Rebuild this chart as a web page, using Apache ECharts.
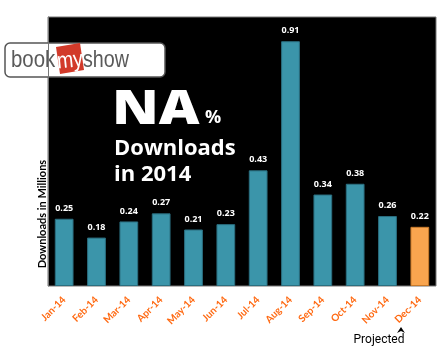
<!DOCTYPE html>
<html><head><meta charset="utf-8">
<script src="https://cdn.jsdelivr.net/npm/echarts@6/dist/echarts.min.js"></script>
<style>html,body{margin:0;padding:0;background:#fff}#c{width:448px;height:364px}</style>
</head><body><div id="c"></div>
<script>
const categories = ['Jan-14','Feb-14','Mar-14','Apr-14','May-14','Jun-14','Jul-14','Aug-14','Sep-14','Oct-14','Nov-14','Dec-14'];
const downloads = [0.25,0.18,0.24,0.27,0.21,0.23,0.43,0.91,0.34,0.38,0.26,0.22];
const projectedIndex = 11;

const chart = echarts.init(document.getElementById('c'), null, {renderer:'canvas'});
chart.setOption({
  backgroundColor:'#fff',
  animation:false,
  grid:{left:48,right:12,top:17,bottom:78,show:true,backgroundColor:'#000',borderColor:'#777',borderWidth:1},
  xAxis:{type:'category',data:categories,
    axisLine:{show:false},axisTick:{show:false},
    axisLabel:{rotate:45,color:'#ff6a13',fontFamily:'Lato',fontWeight:'bold',fontSize:10,margin:12,interval:0}},
  yAxis:{type:'value',min:0,max:1,axisLabel:{show:false},splitLine:{show:false},axisLine:{show:true,lineStyle:{color:'#777'}},axisTick:{show:false}},
  series:[{type:'bar',barWidth:'58%',
    data:downloads.map((v,i)=>({value:v,itemStyle:i===projectedIndex?{color:'#f9a54f',borderColor:'#c97a2a'}:{color:'#3b95aa',borderColor:'#2b6f80'}})),
    itemStyle:{borderWidth:1},
    label:{show:true,position:'top',distance:6,color:'#fff',fontFamily:'Open Sans',fontWeight:'bold',fontSize:9,formatter:p=>p.value.toFixed(2)}}],
  graphic:[
    {type:'text',x:42,y:214,rotation:Math.PI/2,style:{text:'Downloads in Millions',fill:'#000',font:'bold 11px Lato',align:'center',verticalAlign:'middle'}},
    {type:'rect',shape:{x:5,y:43,width:160,height:34,r:5},style:{fill:'#fff',stroke:'#555',lineWidth:1.5}},
    {type:'text',x:11,y:60,scaleX:0.85,style:{text:'book',fill:'#5a5a5a',font:'24px "Liberation Sans"',verticalAlign:'middle'}},
    {type:'polygon',shape:{points:[[56,47],[80,43],[84,70],[60,74]]},style:{fill:'#d23a2a'}},
    {type:'text',x:70,y:61,scaleX:0.85,rotation:0.1,style:{text:'my',fill:'#fff',font:'23px "Liberation Sans"',align:'center',verticalAlign:'middle'}},
    {type:'text',x:83,y:60,scaleX:0.82,style:{text:'show',fill:'#5a5a5a',font:'24px "Liberation Sans"',verticalAlign:'middle'}},
    {type:'text',x:112,y:134,scaleX:1.17,style:{text:'NA',fill:'#fff',font:'800 48px "Open Sans"',verticalAlign:'bottom'}},
    {type:'text',x:205,y:127,style:{text:'%',fill:'#fff',font:'bold 18px "Open Sans"',verticalAlign:'bottom'}},
    {type:'text',x:114,y:160,style:{text:'Downloads',fill:'#fff',font:'bold 22px "Open Sans"',verticalAlign:'bottom'}},
    {type:'text',x:114,y:186,style:{text:'in 2014',fill:'#fff',font:'bold 22px "Open Sans"',verticalAlign:'bottom'}},
    {type:'polygon',shape:{points:[[401,327],[397,333],[401,331],[405,333]]},style:{fill:'#000'}},
    {type:'text',x:379,y:340,style:{text:'Projected',fill:'#000',font:'12px Roboto',align:'center',verticalAlign:'middle'}}
  ]
});
</script></body></html>
